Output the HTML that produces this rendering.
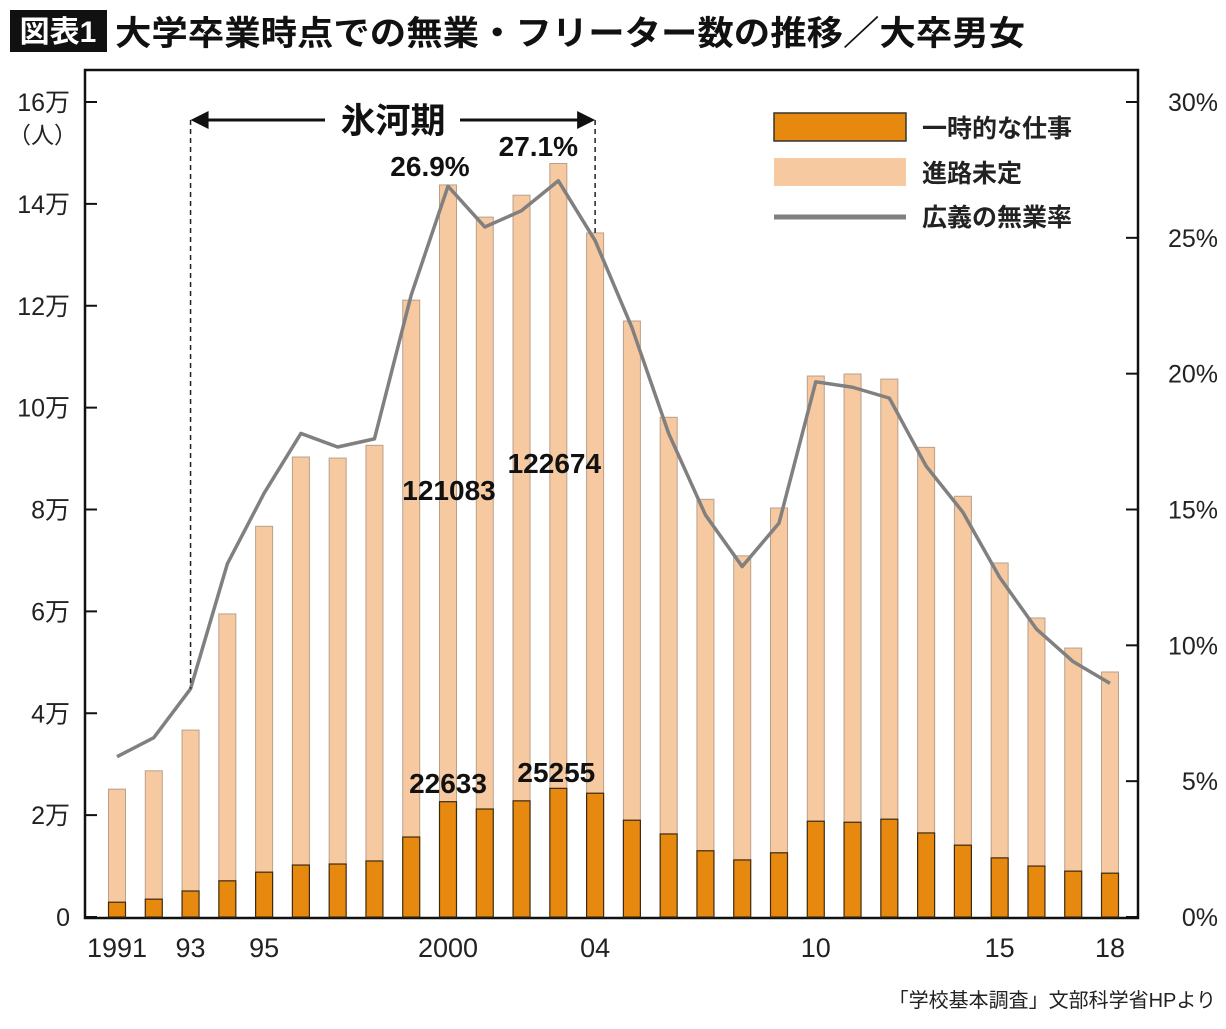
<!DOCTYPE html>
<html><head><meta charset="utf-8">
<style>
body{margin:0;background:#fff;width:1226px;height:1024px;overflow:hidden;font-family:"Liberation Sans","Noto Sans CJK JP",sans-serif;}
svg text{font-family:"Liberation Sans","Noto Sans CJK JP",sans-serif;}
</style></head><body>
<svg width="1226" height="1024" xmlns="http://www.w3.org/2000/svg" id="chart">
<rect x="10" y="10" width="97" height="42" fill="#111"/>
<text x="58" y="42" font-size="30" font-weight="bold" fill="#fff" text-anchor="middle">図表1</text>
<text x="115" y="45" font-size="34" font-weight="bold" fill="#111" textLength="910" lengthAdjust="spacingAndGlyphs">大学卒業時点での無業・フリーター数の推移／大卒男女</text>
<rect x="85" y="70" width="1053" height="848" fill="none" stroke="#111" stroke-width="2.5"/>
<g id="bars"></g>
<g id="axes"></g>
<polyline id="rate-line" fill="none" stroke="#808080" stroke-width="3.5" stroke-linejoin="round"/>
<g id="annot"></g>
<g>
<rect x="774" y="113" width="132" height="28" fill="#e8890f" stroke="#333" stroke-width="1.5"/>
<text x="922" y="137" font-size="25" font-weight="bold" fill="#222">一時的な仕事</text>
<rect x="774" y="158" width="132" height="28" fill="#f6c9a0"/>
<text x="922" y="182" font-size="25" font-weight="bold" fill="#222">進路未定</text>
<line x1="774" y1="217" x2="906" y2="217" stroke="#808080" stroke-width="5"/>
<text x="922" y="226" font-size="25" font-weight="bold" fill="#222">広義の無業率</text>
</g>
<text x="1216" y="1007" font-size="20" fill="#222" text-anchor="end">「学校基本調査」文部科学省HPより</text>
</svg>
<script>
const years=[1991,1992,1993,1994,1995,1996,1997,1998,1999,2000,2001,2002,2003,2004,2005,2006,2007,2008,2009,2010,2011,2012,2013,2014,2015,2016,2017,2018];
const temporary=[2900,3500,5100,7100,8800,10200,10400,11000,15700,22633,21200,22800,25255,24300,19000,16300,13000,11200,12600,18800,18600,19200,16500,14100,11600,10000,9000,8600];
const undecided=[22200,25200,31600,52400,67900,80100,79700,81600,105400,121083,116200,118900,122674,110000,98000,81800,69000,59700,67700,87400,88000,86400,75700,68500,57900,48700,43800,39500];
const rate=[5.9,6.6,8.4,13.0,15.6,17.8,17.3,17.6,22.9,26.9,25.4,26.0,27.1,24.9,21.7,17.8,14.8,12.9,14.5,19.7,19.5,19.1,16.6,14.9,12.5,10.6,9.4,8.6];
const leftTicks=[0,20000,40000,60000,80000,100000,120000,140000,160000];
const leftTickLabels=["0","2万","4万","6万","8万","10万","12万","14万","16万"];
const rightTicks=[0,5,10,15,20,25,30];
const xLabelYears=[1991,1993,1995,2000,2004,2010,2015,2018];
const xLabelText=["1991","93","95","2000","04","10","15","18"];

const NS="http://www.w3.org/2000/svg";
const x=yr=>117+(yr-1991)*(1110-117)/27;
const yL=v=>917-v*(917-102)/160000;
const yR=p=>917-p*(917-102)/30;
function mk(tag,attrs,parent,txt){const e=document.createElementNS(NS,tag);for(const k in attrs)e.setAttribute(k,attrs[k]);if(txt!==undefined)e.textContent=txt;parent.appendChild(e);return e;}
const bars=document.getElementById('bars'),axes=document.getElementById('axes'),annot=document.getElementById('annot');
const bw=17;
years.forEach((yr,i)=>{
  const cx=x(yr);
  const tot=temporary[i]+undecided[i];
  const b1=mk('rect',{x:cx-bw/2,y:yL(tot),width:bw,height:yL(temporary[i])-yL(tot),fill:'#f6c9a0',stroke:'#b9a08a','stroke-width':1},bars);
  
  
  const b2=mk('rect',{x:cx-bw/2,y:yL(temporary[i]),width:bw,height:yL(0)-yL(temporary[i]),fill:'#e8890f',stroke:'#3a2a10','stroke-width':1.2},bars);
  
  
});
document.getElementById('rate-line').setAttribute('points',years.map((yr,i)=>x(yr)+','+yR(rate[i])).join(' '));
leftTicks.forEach((v,i)=>{
  const l=mk('line',{x1:85,x2:97,y1:yL(v),y2:yL(v),stroke:'#111','stroke-width':2},axes);
  
  
  const t=mk('text',{x:70,y:yL(v)+9,'font-size':25,'text-anchor':'end',fill:'#222'},axes,leftTickLabels[i]);
  
  
});
const unit=mk('text',{x:8,y:143,'font-size':23,fill:'#222'},axes,'（人）');


rightTicks.forEach(p=>{
  const l=mk('line',{x1:1126,x2:1138,y1:yR(p),y2:yR(p),stroke:'#111','stroke-width':2},axes);
  
  
  const t=mk('text',{x:1218,y:yR(p)+9,'font-size':25,'text-anchor':'end',fill:'#222'},axes,p+'%');
  
  
});
xLabelYears.forEach((yr,i)=>{
  const t=mk('text',{x:x(yr),y:957,'font-size':27,'text-anchor':'middle',fill:'#222'},axes,xLabelText[i]);
  
  
});
const xa=x(1993),xb=x(2004);
[[xa,yR(rate[2])],[xb,yL(temporary[13]+undecided[13])]].forEach(([xx,yb])=>{
  const d=mk('line',{x1:xx,x2:xx,y1:120,y2:yb,stroke:'#222','stroke-width':1.5,'stroke-dasharray':'5,4'},annot);
  
  
});
const ar=mk('line',{x1:xa+12,x2:xb-12,y1:120,y2:120,stroke:'#111','stroke-width':3},annot);


mk('polygon',{points:`${xa},120 ${xa+18},111 ${xa+18},129`,fill:'#111'},annot);
mk('polygon',{points:`${xb},120 ${xb-18},111 ${xb-18},129`,fill:'#111'},annot);
mk('rect',{x:325,y:98,width:135,height:42,fill:'#fff'},annot);
const ia=mk('text',{x:393,y:133,'font-size':35,'font-weight':'bold','text-anchor':'middle',fill:'#111'},annot,'氷河期');


function lab(txt,xx,yy,name){const t=mk('text',{x:xx,y:yy,'font-size':28,'font-weight':'bold','text-anchor':'middle',fill:'#111'},annot,txt);}
lab(rate[9]+'%',x(2000)-18,176,'rate-label-2000');
lab(rate[12]+'%',x(2003)-20,156,'rate-label-2003');
lab(String(undecided[9]),x(2000)+1,500,'undecided-label-2000');
lab(String(undecided[12]),x(2003)-4,473,'undecided-label-2003');
lab(String(temporary[9]),x(2000),793,'temporary-label-2000');
lab(String(temporary[12]),x(2003)-2,782,'temporary-label-2003');
</script>
</body></html>
